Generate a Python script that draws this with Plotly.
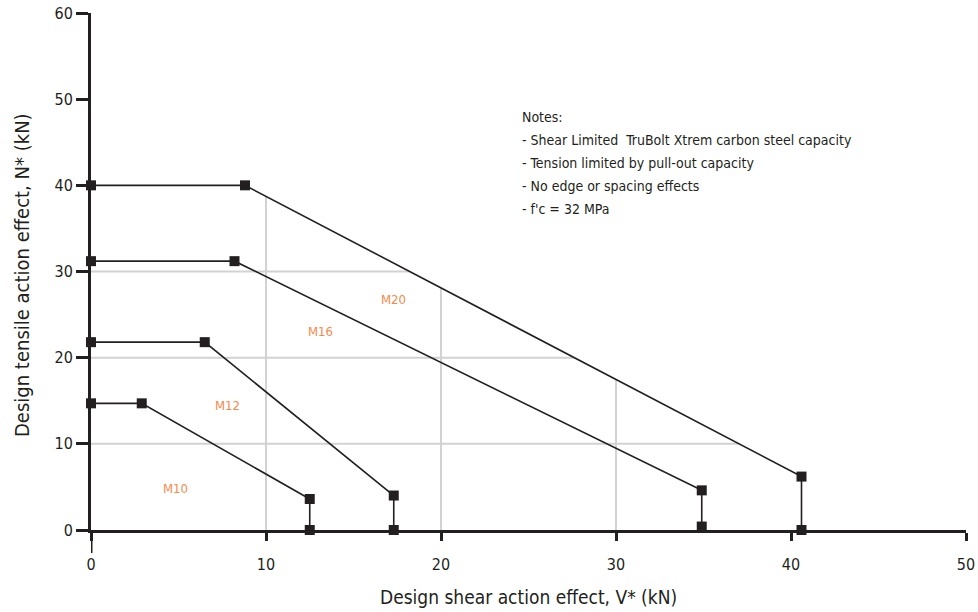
import plotly.graph_objects as go

# ---- data ----
m10_v = [0, 2.9, 12.5, 12.5]
m10_n = [14.7, 14.7, 3.6, 0]
m12_v = [0, 6.5, 17.3, 17.3]
m12_n = [21.8, 21.8, 4.0, 0]
m16_v = [0, 8.2, 34.9, 34.9]
m16_n = [31.2, 31.2, 4.6, 0.4]
m20_v = [0, 8.8, 40.6, 40.6]
m20_n = [40.0, 40.0, 6.2, 0]

series_names = ["M10", "M12", "M16", "M20"]
label_v = [4.8, 7.8, 13.1, 17.3]
label_n = [4.8, 14.4, 23.0, 26.8]

x_ticks = [0, 10, 20, 30, 40, 50]
y_ticks = [0, 10, 20, 30, 40, 50, 60]
grid_vals = [10, 20, 30]

notes = [
    "Notes:",
    "- Shear Limited  TruBolt Xtrem carbon steel capacity",
    "- Tension limited by pull-out capacity",
    "- No edge or spacing effects",
    "- f'c = 32 MPa",
]

FONT = "Liberation Sans Narrow, DejaVu Sans Condensed, Roboto, sans-serif"
DARK = "#231f20"
ORANGE = "#f58a4b"

W, H = 978, 612
L, R, T, B = 91, 12, 13, 82
PW, PH = W - L - R, H - T - B

def px_x(px):
    return (px - L) / PW

def px_y(py):
    return (H - B - py) / PH

fig = go.Figure()

# partial grid clipped at the M20 envelope
v1, v2 = m20_v[1], m20_v[2]
n1, n2 = m20_n[1], m20_n[2]
slope = (n2 - n1) / (v2 - v1)
for g in grid_vals:
    top = n1 if g <= v1 else n1 + (g - v1) * slope
    fig.add_shape(type="line", x0=g, x1=g, y0=0, y1=top, xref="x", yref="y",
                  line=dict(color="#d2d2d2", width=2), layer="below")
    right = v1 + (g - n1) / slope
    fig.add_shape(type="line", x0=0, x1=right, y0=g, y1=g, xref="x", yref="y",
                  line=dict(color="#d2d2d2", width=2), layer="below")

for v, n in [(m10_v, m10_n), (m12_v, m12_n), (m16_v, m16_n), (m20_v, m20_n)]:
    fig.add_trace(go.Scatter(
        x=v, y=n, mode="lines+markers",
        line=dict(color=DARK, width=1.6),
        marker=dict(symbol="square", size=10, color=DARK),
        cliponaxis=False, showlegend=False, hoverinfo="x+y"))

for name, lv, ln in zip(series_names, label_v, label_n):
    fig.add_annotation(x=lv, y=ln, text=name, showarrow=False,
                       font=dict(family=FONT, size=13, color=ORANGE))

note_y = [117, 140, 163, 186, 209]
for txt, py in zip(notes, note_y):
    fig.add_annotation(x=px_x(520), y=px_y(py), xref="paper", yref="paper",
                       text=txt, showarrow=False, xanchor="left", yanchor="middle",
                       font=dict(family=FONT, size=14, color=DARK))

# axis titles
fig.add_annotation(x=0.5, y=px_y(597), xref="paper", yref="paper",
                   text="Design shear action effect, V* (kN)", showarrow=False,
                   font=dict(family=FONT, size=19, color=DARK), yanchor="middle")
fig.add_annotation(x=px_x(22), y=px_y(275), xref="paper", yref="paper",
                   text="Design tensile action effect, N* (kN)", showarrow=False,
                   textangle=-90, font=dict(family=FONT, size=20, color=DARK),
                   xanchor="center", yanchor="middle")

# y axis extension below zero
fig.add_shape(type="line", x0=0, x1=0, y0=px_y(553), y1=0, xref="x", yref="paper",
              line=dict(color=DARK, width=3))

fig.update_xaxes(range=[0, 50], tickvals=x_ticks, showgrid=False, zeroline=False,
                 showline=True, linecolor=DARK, linewidth=3, automargin=False,
                 ticks="outside", ticklen=8, tickwidth=3, tickcolor=DARK,
                 ticklabelstandoff=10,
                 tickfont=dict(family=FONT, size=16, color=DARK))
fig.update_yaxes(range=[0, 60], tickvals=y_ticks, showgrid=False, zeroline=False,
                 showline=True, linecolor=DARK, linewidth=3, automargin=False,
                 ticks="outside", ticklen=12, tickwidth=3, tickcolor=DARK,
                 tickfont=dict(family=FONT, size=16, color=DARK))

fig.update_layout(width=W, height=H, margin=dict(l=L, r=R, t=T, b=B),
                  plot_bgcolor="white", paper_bgcolor="white",
                  font=dict(family=FONT, color=DARK))

fig.write_html("out.html", config={"displayModeBar": False},
               post_script="document.body.style.margin='0';document.body.style.overflow='hidden';")
